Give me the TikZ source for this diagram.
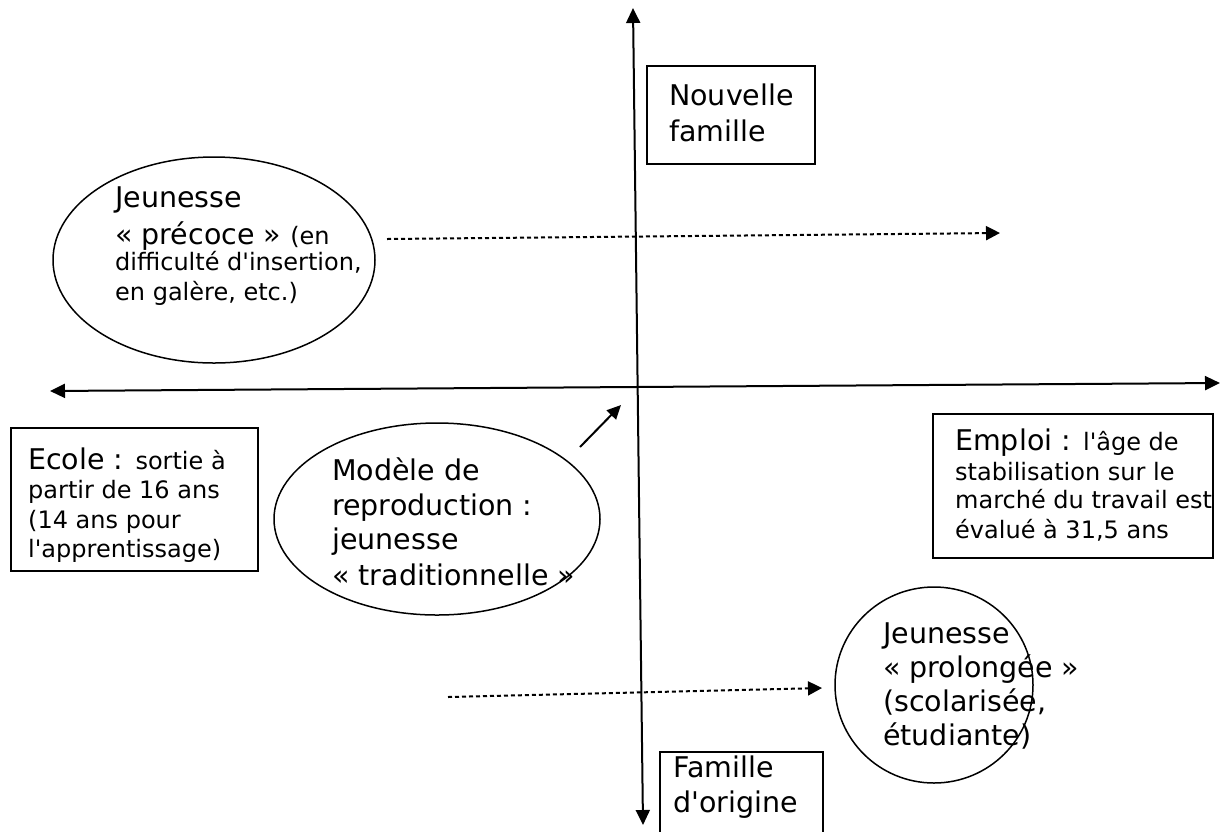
\documentclass[tikz,border=0pt]{standalone}
\usepackage{fontspec}
\setmainfont{DejaVu Sans}
\newfontfamily\verdana{DejaVu Sans}
\usetikzlibrary{arrows.meta, positioning, shapes.geometric}
\newcommand{\grandtxt}{\verdana\fontsize{28.5}{34}\selectfont}
\newcommand{\petittxt}{\fontsize{24}{29}\selectfont}

\begin{document}
\begin{tikzpicture}[
    x=1pt, y=-1pt,
    axe/.style={line width=2pt, {Triangle[length=15pt,width=14pt]}-{Triangle[length=15pt,width=14pt]}},
    fleche/.style={line width=2pt, -{Triangle[length=14pt,width=13pt]}},
    pointille/.style={line width=2pt, dash pattern=on 4pt off 3pt, -{Triangle[length=14pt,width=14pt]}},
    cadre/.style={draw, line width=1.6pt, anchor=north west, inner sep=0pt},
    bulle/.style={draw, ellipse, line width=1.5pt, inner sep=0pt},
    texte/.style={font=\grandtxt, align=left, anchor=base west, inner sep=0pt},
]

\useasboundingbox (0,0) rectangle (1222,831);
\clip (0,0) rectangle (1222,831);

% Axes
\coordinate (haut) at (633,8);
\coordinate (bas) at (643,825);
\coordinate (gauche) at (50,391);
\coordinate (droite) at (1220,383);
\draw[axe] (bas) -- (haut);
\draw[axe] (gauche) -- (droite);

% Nouvelle famille
\node[cadre, minimum width=168pt, minimum height=98pt] (nouvelle) at (646,65) {};
\node[texte] (nouvelle-txt) at (669,141) {Nouvelle\\[2pt]famille};

% Jeunesse precoce
\node[bulle, minimum width=322pt, minimum height=206pt] (precoce) at (214,260) {};
\node[texte] (precoce-txt) at (115,300) {Jeunesse\\[3pt]«~précoce~» {\petittxt (en}\\[-8pt]{\petittxt difficulté d'insertion,}\\[-4pt]{\petittxt en galère, etc.)}};

% Ecole
\node[cadre, minimum width=247pt, minimum height=143pt] (ecole) at (10,427) {};
\node[texte] (ecole-txt) at (28,557) {Ecole : {\petittxt sortie à}\\[-5pt]{\petittxt partir de 16 ans}\\[-4pt]{\petittxt (14 ans pour}\\[-5pt]{\petittxt l'apprentissage)}};

% Modele de reproduction
\node[bulle, minimum width=326pt, minimum height=192pt] (modele) at (437,519) {};
\node[texte] (modele-txt) at (332,585) {Modèle de\\[1pt]reproduction :\\[0pt]jeunesse\\[2pt]«~traditionnelle~»};

% Emploi
\node[cadre, minimum width=280pt, minimum height=144pt] (emploi) at (932,413) {};
\node[texte] (emploi-txt) at (955,538) {Emploi : {\petittxt l'âge de}\\[-4pt]{\petittxt stabilisation sur le}\\[-6pt]{\petittxt marché du travail est}\\[-4pt]{\petittxt évalué à 31,5 ans}};

% Jeunesse prolongee
\node[bulle, minimum width=198pt, minimum height=196pt] (prolongee) at (934,685) {};
\node[texte] (prolongee-txt) at (883,745) {Jeunesse\\«~prolongée~»\\(scolarisée,\\étudiante)};

% Famille d'origine
\node[cadre, minimum width=163pt, minimum height=100pt] (origine) at (659,751) {};
\node[texte] (origine-txt) at (673,812) {Famille\\[1pt]d'origine};

% Fleches
\coordinate (p1) at (387,239);
\coordinate (p2) at (1000,233);
\draw[pointille] (p1) -- (p2);
\coordinate (q1) at (448,697);
\coordinate (q2) at (822,688);
\draw[pointille] (q1) -- (q2);
\coordinate (r1) at (580,447);
\coordinate (r2) at (621,405);
\draw[fleche] (r1) -- (r2);

\end{tikzpicture}
\end{document}
